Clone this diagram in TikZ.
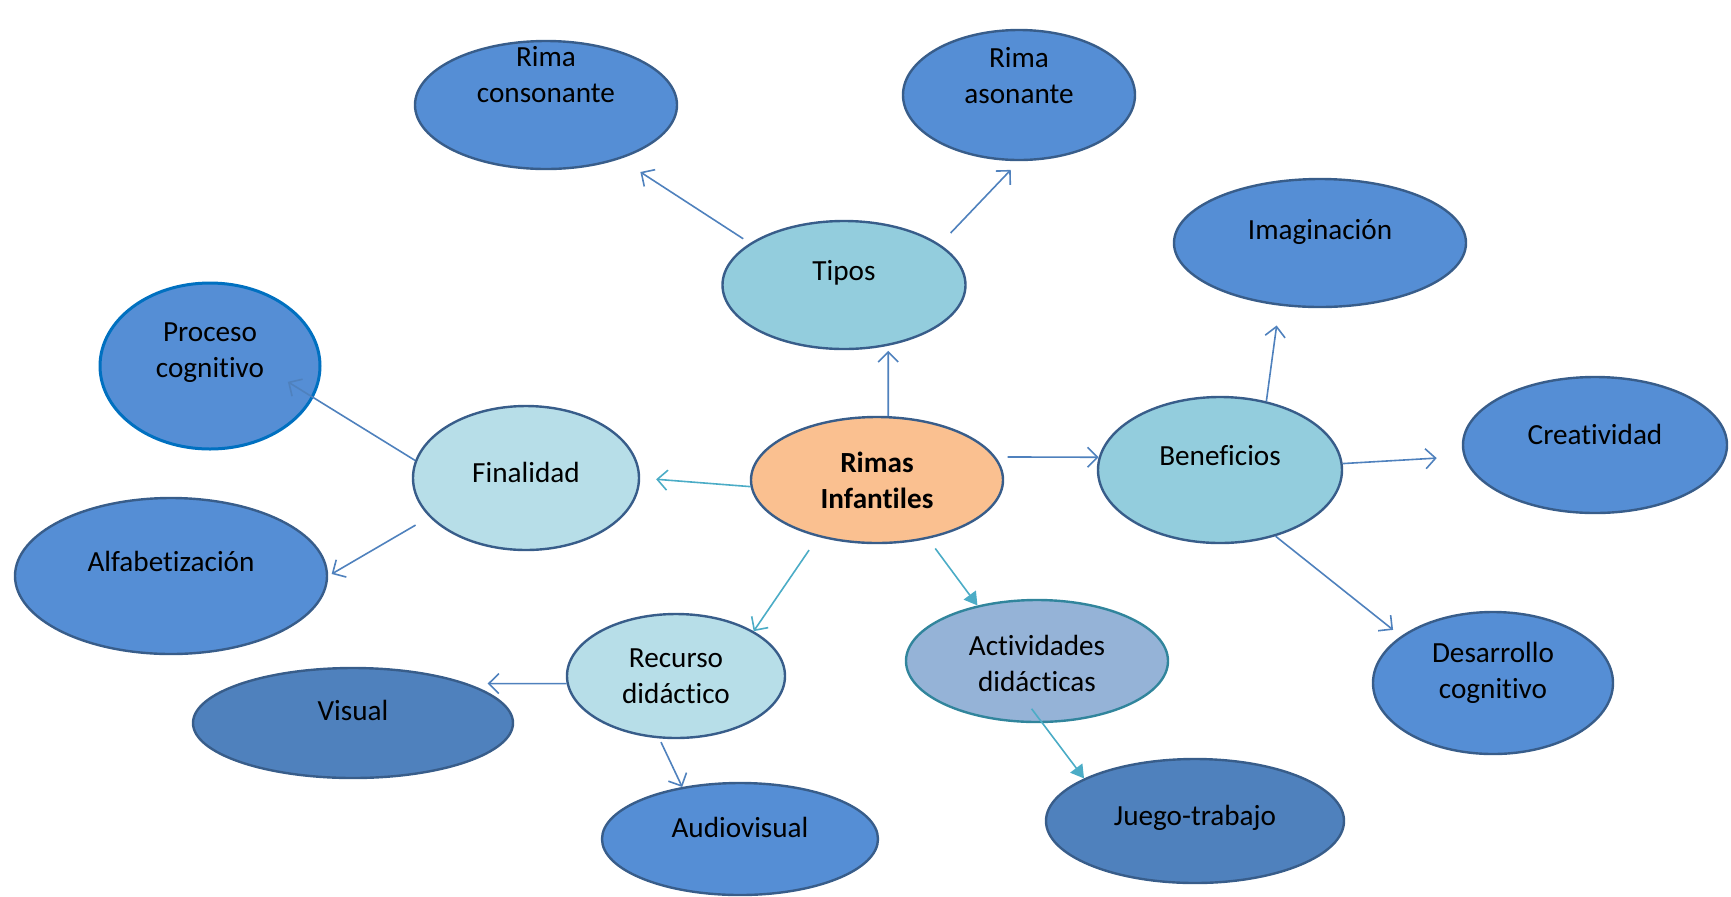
\documentclass[tikz,border=0pt]{standalone}
\usepackage{fontspec}
\setmainfont{Carlito}[Ligatures=NoCommon]
\usetikzlibrary{shapes.geometric,arrows.meta}

\definecolor{nodeline}{RGB}{56,93,138}
\definecolor{midblue}{RGB}{85,142,213}
\definecolor{darkblue}{RGB}{79,129,189}
\definecolor{aqua}{RGB}{147,205,221}
\definecolor{paleaqua}{RGB}{183,222,232}
\definecolor{peach}{RGB}{250,192,144}
\definecolor{greyblue}{RGB}{149,179,215}
\definecolor{tealline}{RGB}{49,133,156}
\definecolor{procline}{RGB}{0,112,192}
\definecolor{arrowblue}{RGB}{79,129,189}
\definecolor{arrowteal}{RGB}{75,172,198}
\newcommand{\lblfont}{\fontsize{14.6}{18}\selectfont}

\begin{document}
\begin{tikzpicture}[->,>={Straight Barb[length=5pt,width=10pt]},x=0.5pt,y=-0.5pt,
    main node/.style={ellipse,draw=nodeline,line width=1.2pt,inner sep=0pt},
    every label/.style={align=center,font=\lblfont,text=black},
    teal edge/.style={draw=arrowteal},
    tri edge/.style={draw=arrowteal,-{Triangle[length=6.5pt,width=7.5pt]}}]

            \useasboundingbox (0,0) rectangle (1731,896);

            \node[main node,fill=peach,minimum width=126pt,minimum height=63pt,label={[font=\lblfont\bfseries]center:Rimas\\Infantiles}] (1) at (877,480) {};
            \node[main node,fill=aqua,minimum width=121.5pt,minimum height=64pt,label={[yshift=6pt]center:Tipos}] (2) at (844,285) {};
            \node[main node,fill=midblue,minimum width=131pt,minimum height=64pt,label={[yshift=15pt]center:Rima\\consonante}] (3) at (546,105) {};
            \node[main node,fill=midblue,minimum width=116pt,minimum height=65pt,label={[yshift=9.7pt]center:Rima\\asonante}] (4) at (1019,95) {};
            \node[main node,fill=paleaqua,minimum width=113pt,minimum height=72pt,label={[yshift=2.75pt]center:Finalidad}] (5) at (526,478) {};
            \node[main node,draw=procline,line width=1.5pt,fill=midblue,minimum width=110pt,minimum height=83pt,label={[yshift=6.5pt]center:Proceso\\cognitivo}] (6) at (210,366) {};
            \node[main node,fill=midblue,minimum width=156pt,minimum height=78pt,label={[yshift=7.5pt]center:Alfabetización}] (7) at (171,576) {};
            \node[main node,fill=aqua,minimum width=122pt,minimum height=73pt,label={[yshift=7pt]center:Beneficios}] (8) at (1220,470) {};
            \node[main node,fill=midblue,minimum width=146pt,minimum height=64pt,label={[yshift=5.5pt]center:Imaginación}] (9) at (1320,243) {};
            \node[main node,fill=midblue,minimum width=132pt,minimum height=68pt,label={[yshift=5.5pt]center:Creatividad}] (10) at (1595,445) {};
            \node[main node,fill=midblue,minimum width=120pt,minimum height=71pt,label={[yshift=5pt]center:Desarrollo\\cognitivo}] (11) at (1493,683) {};
            \node[main node,fill=paleaqua,minimum width=109pt,minimum height=62pt,label={center:Recurso\\didáctico}] (12) at (676,676) {};
            \node[main node,fill=darkblue,minimum width=160pt,minimum height=55pt,label={[yshift=6.5pt]center:Visual}] (13) at (353,723) {};
            \node[main node,fill=midblue,minimum width=138pt,minimum height=56pt,label={[yshift=6pt]center:Audiovisual}] (14) at (740,839) {};
            \node[main node,draw=tealline,fill=greyblue,minimum width=131pt,minimum height=61pt,label={[yshift=-1pt]center:Actividades\\didácticas}] (15) at (1037,661) {};
            \node[main node,fill=darkblue,minimum width=149pt,minimum height=62pt,label={[yshift=1.5pt]center:Juego-trabajo}] (16) at (1195,821) {};

            \path[every edge/.style={draw=arrowblue,line width=0.8pt}]
                (1.80) edge[shorten >=2.5pt] (2.306)
                (2.156) edge[shorten <=4pt,shorten >=12pt] (3.324)
                (2.23) edge[shorten <=7.8pt,shorten >=6pt] (4.270)
                (1.183) edge[teal edge,shorten >=8pt] (5.0)
                (5.171) edge[shorten >=-15pt] (6.343)
                (5.202) edge[shorten <=8pt,shorten >=2pt] (7.0)
                (1.11) edge[shorten <=6pt] (8.174)
                (8.56) edge[shorten >=10pt] (9.237)
                (8.3) edge[shorten >=13.5pt] (10.185)
                (8.310) edge[shorten >=5pt] (11.153)
                (1.224) edge[teal edge,shorten <=8pt] (12.30)
                (1.311) edge[tri edge,shorten <=6pt] (15.137)
                (15.275) edge[tri edge,shorten <=-9pt] (16.159)
                (12.184) edge[shorten >=10pt] (13.19)
                (12.255) edge[shorten <=2pt] (14.138)
            ;
        \end{tikzpicture}
\end{document}
